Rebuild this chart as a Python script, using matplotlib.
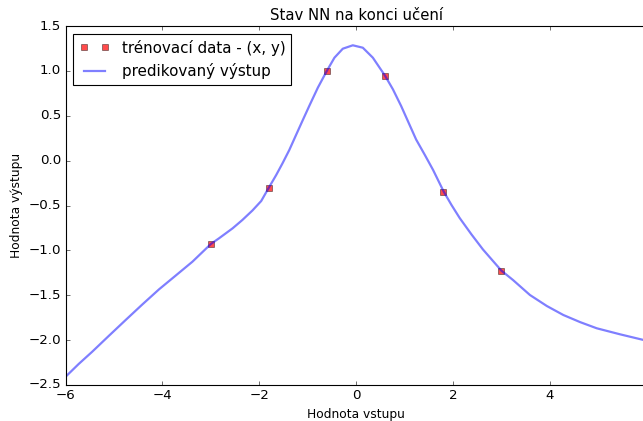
import matplotlib
matplotlib.use("Agg")
import matplotlib.pyplot as plt

# training samples of the network
train_x = [-3.0, -1.8, -0.6, 0.6, 1.8, 3.0]
train_y = [-0.93, -0.31, 1.00, 0.946, -0.346, -1.23]

# network output sampled over the input range
pred_x = [-6.0, -5.73, -5.45, -5.11, -4.76, -4.42, -4.07, -3.72, -3.38, -3.0,
          -2.83, -2.55, -2.35, -2.14, -1.96, -1.81, -1.65, -1.52, -1.38, -1.24,
          -1.10, -0.965, -0.79, -0.6, -0.447, -0.275, -0.068, 0.139, 0.346, 0.6,
          0.76, 0.93, 1.07, 1.24, 1.42, 1.59, 1.81, 1.97, 2.14, 2.38,
          2.62, 2.83, 3.0, 3.24, 3.59, 3.94, 4.28, 4.63, 4.97, 5.45, 5.95]
pred_y = [-2.408, -2.266, -2.129, -1.954, -1.776, -1.605, -1.434, -1.278, -1.126, -0.929,
          -0.865, -0.754, -0.662, -0.555, -0.45, -0.308, -0.16, -0.03, 0.118, 0.286,
          0.453, 0.612, 0.813, 1.004, 1.147, 1.247, 1.285, 1.258, 1.147, 0.944,
          0.795, 0.609, 0.44, 0.235, 0.063, -0.104, -0.346, -0.494, -0.64, -0.82,
          -0.99, -1.12, -1.225, -1.33, -1.497, -1.62, -1.72, -1.80, -1.868, -1.935, -2.0]

x_ticks = [-6, -4, -2, 0, 2, 4]
y_ticks = [-2.5, -2.0, -1.5, -1.0, -0.5, 0.0, 0.5, 1.0, 1.5]

plt.style.use("classic")
plt.rcParams["font.family"] = ["DejaVu Sans"]

dpi = 80
fig = plt.figure(figsize=(643 / dpi, 421 / dpi), dpi=dpi, facecolor="white")
ax = fig.add_axes([65.6 / 643, 36 / 421, 581 / 643, 359 / 421])

ax.plot(train_x, train_y, "rs", alpha=0.7, markersize=6, label="trénovací data - (x, y)")
ax.plot(pred_x, pred_y, "b-", alpha=0.5, linewidth=2, label="predikovaný výstup")

ax.set_xlim(-6, 6)
ax.set_ylim(-2.5, 1.5)
ax.set_xticks(x_ticks)
ax.set_yticks(y_ticks)
ax.tick_params(labelsize=12)

ax.set_title("Stav NN na konci učení", fontsize=13.4)
ax.set_xlabel("Hodnota vstupu", fontsize=11)
ax.set_ylabel("Hodnota výstupu", fontsize=11)

ax.legend(loc="upper left", numpoints=2, fontsize=13.6, fancybox=False)

fig.savefig("out.png", dpi=dpi, facecolor="white")
